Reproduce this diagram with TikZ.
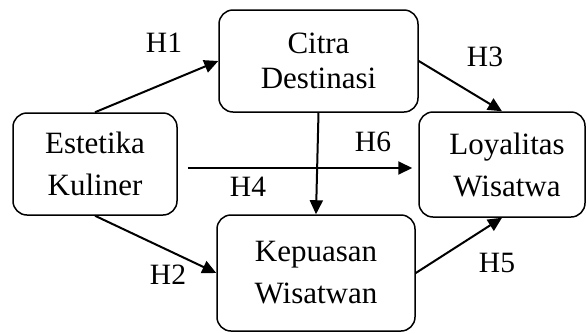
\documentclass[tikz,border=0pt]{standalone}
\usepackage{fontspec}
\setmainfont{Liberation Serif}
\usetikzlibrary{arrows.meta}
\begin{document}
\begin{tikzpicture}[x=1pt,y=-1pt,
  varbox/.style={draw, line width=1.5pt, rounded corners=14pt, align=center,
    inner sep=0pt, font=\fontsize{31}{35}\selectfont},
  link/.style={line width=2pt, -{Triangle[length=14pt,width=13pt]}},
  hlabel/.style={font=\fontsize{29.5}{35}\selectfont, inner sep=0pt}]
\useasboundingbox (0,0) rectangle (587,333);
% variable boxes
\node[varbox, minimum width=164pt, minimum height=102pt] (est) at (95,164)
  {Estetika\\[7pt]Kuliner};
\node[varbox, minimum width=199pt, minimum height=102pt] (cit) at (318.5,61)
  {Citra\\Destinasi};
\node[varbox, minimum width=166pt, minimum height=105pt] (loy) at (502,164.5)
  {\hspace*{10pt}Loyalitas\\[7pt]\hspace*{10pt}Wisatwa};
\node[varbox, minimum width=198pt, minimum height=116pt] (kep) at (316,273)
  {Kepuasan\\[7pt]Wisatwan};
% hypothesised paths
\draw[link] (est.north) -- (cit.west);
\draw[link] (est.south) -- (kep.west);
\draw[link] (cit.east) -- (loy.north);
\draw[link] (kep.east) -- (loy.south);
\draw[link] ([xshift=10pt,yshift=-4pt]est.east) -- ([xshift=-6pt,yshift=-4pt]est.east -| loy.west);
\draw[link] (cit.south) -- (kep.north);
% path labels
\node[hlabel] (h1) at (164,43) {H1};
\node[hlabel] (h2) at (168,275) {H2};
\node[hlabel] (h3) at (485,57) {H3};
\node[hlabel] (h4) at (248,187) {H4};
\node[hlabel] (h5) at (497,263) {H5};
\node[hlabel] (h6) at (373,142) {H6};
\end{tikzpicture}
\end{document}
